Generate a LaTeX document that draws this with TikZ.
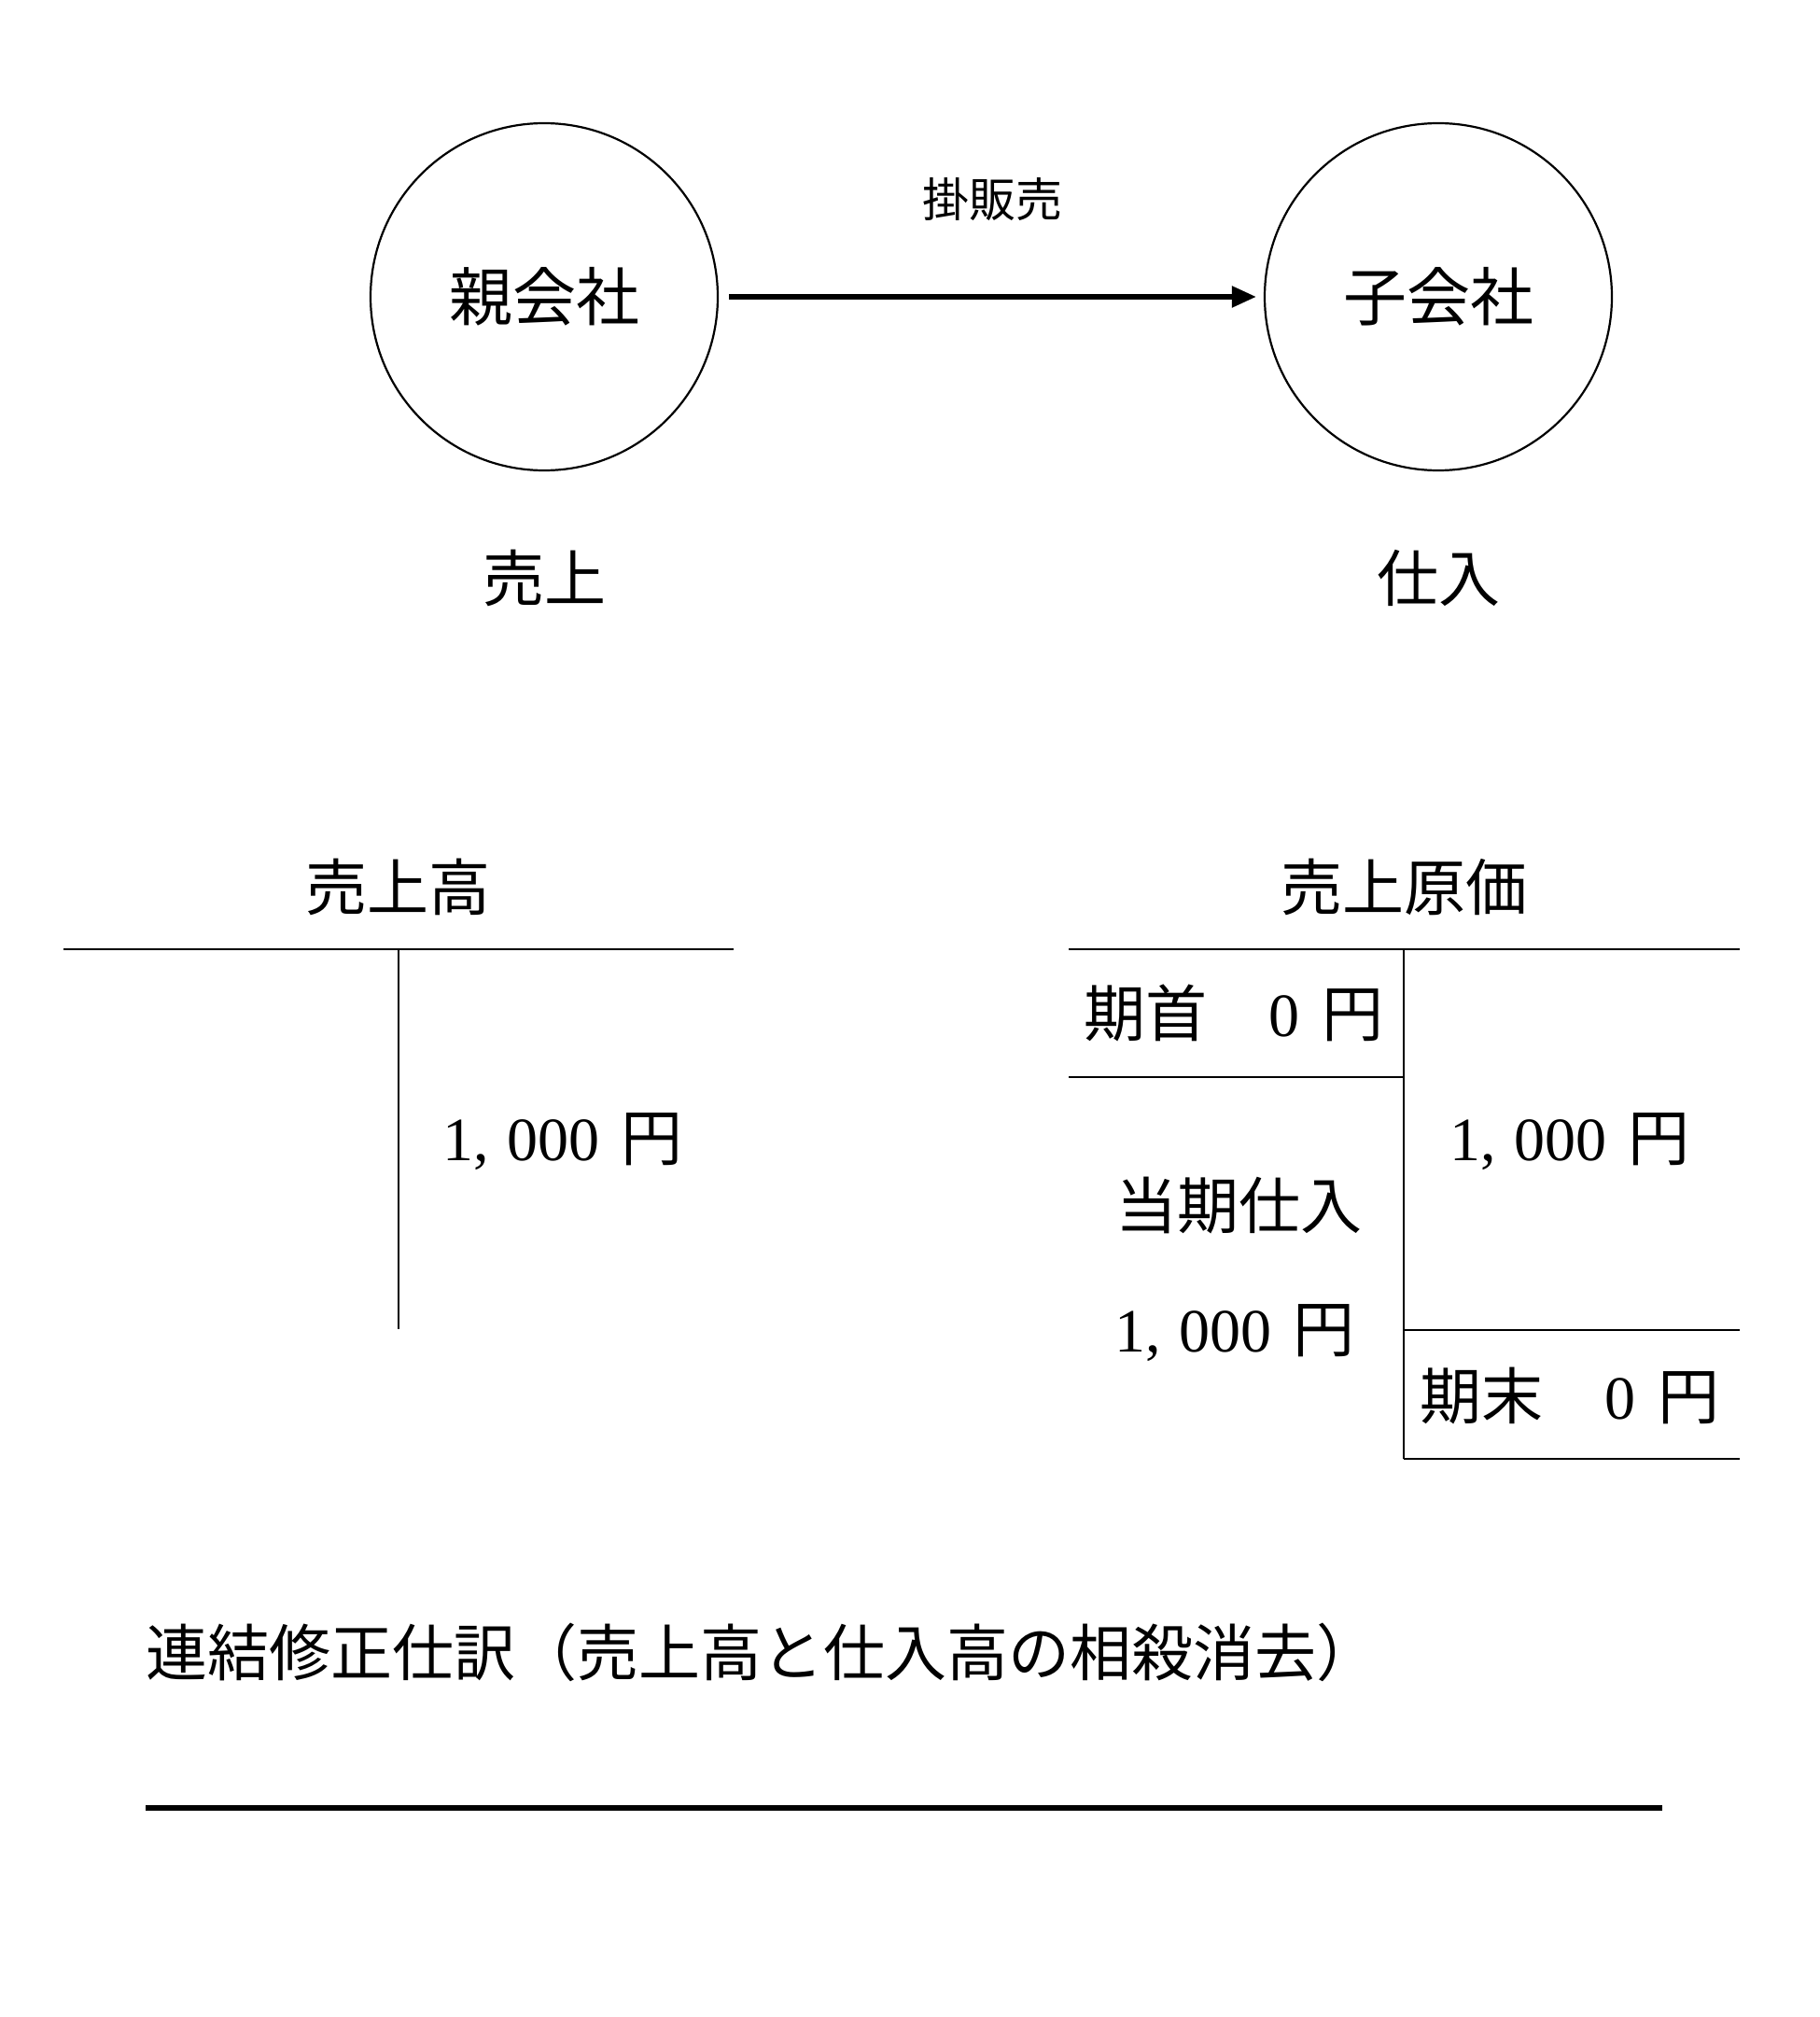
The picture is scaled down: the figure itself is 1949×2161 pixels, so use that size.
\documentclass[tikz,border=0pt]{standalone}
\usepackage{fontspec}
\setmainfont{Liberation Serif}
\newfontfamily\cjk{Noto Sans CJK JP}
\usetikzlibrary{arrows.meta}
\newcommand{\J}[1]{{\cjk #1}}
\newcommand{\yen}{\hspace{0.35em}\J{円}}
\tikzset{
  company/.style={draw, circle, line width=1.1pt, minimum size=186pt, inner sep=0pt, font=\fontsize{34}{40}\selectfont\cjk},
  lbl/.style={inner sep=0pt, font=\fontsize{33}{40}\selectfont},
  small/.style={inner sep=0pt, font=\fontsize{25}{30}\selectfont\cjk},
  tline/.style={line width=1.2pt},
  flow/.style={line width=2.6pt, -{Triangle[length=13pt,width=11pt]}, shorten <=5.5pt, shorten >=4pt},
  rule/.style={line width=2.8pt}
}
\begin{document}
\begin{tikzpicture}[x=0.5pt,y=-0.5pt]
\useasboundingbox (0,0) rectangle (1949,2161);
% top
\node[company] (p) at (583,318) {親会社};
\node[company] (s) at (1541,318) {子会社};
\draw[flow] (p) -- (s);
\node[small] (kake) at (1063,214) {掛販売};
\node[lbl] (uri) at (583,619) {\J{売上}};
\node[lbl] (shi) at (1541,619) {\J{仕入}};
% left T account
\node[lbl] (h1) at (426,950) {\J{売上高}};
\coordinate (l1) at (68,1017);
\coordinate (l2) at (786,1017);
\coordinate (l3) at (427,1017);
\coordinate (l4) at (427,1424);
\draw[tline] (l1) -- (l2);
\draw[tline] (l3) -- (l4);
\node[lbl] (v1) at (603,1223) {1,\hspace{0.3em}000\yen};
% right T account
\node[lbl] (h2) at (1504,950) {\J{売上原価}};
\coordinate (r1) at (1145,1017);
\coordinate (r2) at (1864,1017);
\coordinate (r3) at (1504,1017);
\coordinate (r4) at (1504,1563);
\coordinate (r5) at (1145,1154);
\coordinate (r6) at (1504,1154);
\coordinate (r7) at (1504,1425);
\coordinate (r8) at (1864,1425);
\coordinate (r9) at (1504,1563);
\coordinate (r10) at (1864,1563);
\draw[tline] (r1) -- (r2);
\draw[tline] (r3) -- (r4);
\draw[tline] (r5) -- (r6);
\draw[tline] (r7) -- (r8);
\draw[tline] (r9) -- (r10);
\node[lbl] (kishu) at (1322,1085) {\J{期首　}0\yen};
\node[lbl] (v2) at (1682,1223) {1,\hspace{0.3em}000\yen};
\node[lbl] (toki) at (1327,1292) {\J{当期仕入}};
\node[lbl] (v3) at (1323,1428) {1,\hspace{0.3em}000\yen};
\node[lbl] (kimatsu) at (1682,1496) {\J{期末　}0\yen};
% bottom
\node[lbl, anchor=west] (title) at (156,1770) {\J{連結修正仕訳（売上高と仕入高の相殺消去）}};
\coordinate (b1) at (156,1937);
\coordinate (b2) at (1781,1937);
\draw[rule] (b1) -- (b2);
\end{tikzpicture}
\end{document}
